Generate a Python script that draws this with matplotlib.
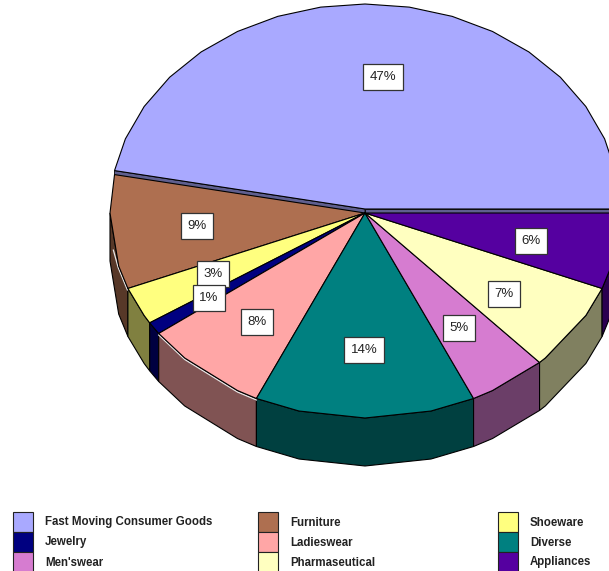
import numpy as np
import matplotlib
matplotlib.use("Agg")
import matplotlib.pyplot as plt
from matplotlib.patches import Rectangle

# Chart data
categories = ["Fast Moving Consumer Goods", "Furniture", "Shoeware", "Jewelry", "Ladieswear",
              "Diverse", "Men'swear", "Pharmaseutical", "Appliances"]
shares = [47, 9, 3, 1, 8, 14, 5, 7, 6]
legend_labels = ["Fast Moving Consumer Goods", "Furniture", "Shoeware",
                 "Jewelry", "Ladieswear", "Diverse",
                 "Men'swear", "Pharmaseutical", "Appliances"]
colors = ["#A9A9FF", "#AE6F50", "#FFFF7F", "#000080", "#FFA6A6",
          "#008080", "#D67CD0", "#FFFFC0", "#5500A0"]

# Layout, in image pixels
cx, cy = 365, 213
rx, ry = 255, 205
depth = 48
lift = 4  # the first slice is pulled out a little
label_xy = [(383, 77), (197, 226), (213, 274), (209, 298), (257, 322),
            (364, 350), (459, 328), (504, 294), (531, 241)]

plt.rcParams['font.family'] = ['Liberation Sans', 'DejaVu Sans']

fig = plt.figure(figsize=(6.09, 5.71), dpi=100)
ax = fig.add_axes([0, 0, 1, 1])
ax.set_xlim(0, 609)
ax.set_ylim(571, 0)
ax.axis('off')


def rim(a0, a1, y0=cy):
    # the pie outline is faceted, finer on the back than on the front
    step = 10 if a1 <= 180 else 15
    inner = np.arange(np.floor(a0 / step + 1) * step, a1, step)
    angles = np.radians(np.concatenate([[a0], inner, [a1]]))
    return cx + rx * np.cos(angles), y0 - ry * np.sin(angles)


def darker(color):
    return tuple(0.5 * c for c in matplotlib.colors.to_rgb(color))


edges = np.cumsum([0] + shares) * 3.6

# Outer walls of the lower half
for i in range(len(shares)):
    a0, a1 = max(edges[i], 180), edges[i + 1]
    if a1 <= 180:
        continue
    x, y = rim(a0, a1)
    ax.fill(np.r_[x, x[::-1]], np.r_[y, y[::-1] + depth], facecolor=darker(colors[i]),
            edgecolor='black', linewidth=0.8, zorder=1)

# Cut faces of the pulled out slice
x, y = rim(edges[0], edges[1], cy - lift)
band = "#5F5F8F"
ax.fill([cx, x[0], x[0], cx], [cy - lift, y[0], y[0] + lift + 1, cy + 1],
        facecolor=band, edgecolor='black', linewidth=0.6, zorder=2)
ax.fill([cx, x[-1], x[-1], cx], [cy - lift, y[-1], y[-1] + lift + 1, cy + 1],
        facecolor=band, edgecolor='black', linewidth=0.6, zorder=2)

# Top faces
for i in range(len(shares)):
    y0 = cy - lift if i == 0 else cy
    x, y = rim(edges[i], edges[i + 1], y0)
    ax.fill(np.r_[cx, x], np.r_[y0, y], facecolor=colors[i], edgecolor='black',
            linewidth=0.8, zorder=3)

# Light line left along the front rim
x, y = rim(edges[4], edges[5])
ax.plot(x, y + 1.5, color='#E8E8E8', linewidth=0.9, zorder=2.5)
x, y = rim(190, edges[2])
ax.plot(x - 0.5, y + 1.5, color='#E8E8E8', linewidth=0.9, zorder=2.5)

# Percent labels
for share, (lx, ly) in zip(shares, label_xy):
    ax.text(lx, ly, f"{share}%", ha='center', va='center', fontsize=9.5, color='#222222', zorder=5,
            bbox=dict(boxstyle='square,pad=0.5', facecolor='white', edgecolor='#333333', linewidth=0.9))

# Legend
col_x = [13, 258, 498]
row_y = [512, 532, 552]
for n, label in enumerate(legend_labels):
    row, col = divmod(n, 3)
    idx = categories.index(label)
    ax.add_patch(Rectangle((col_x[col], row_y[row]), 20, 20, facecolor=colors[idx],
                           edgecolor='#222222', linewidth=0.8, clip_on=True))
    ax.text(col_x[col] + 32, row_y[row] + 10.5, label, ha='left', va='center', fontsize=8.3,
            fontweight='bold', color='#222222')

fig.savefig("out.png", dpi=100)
